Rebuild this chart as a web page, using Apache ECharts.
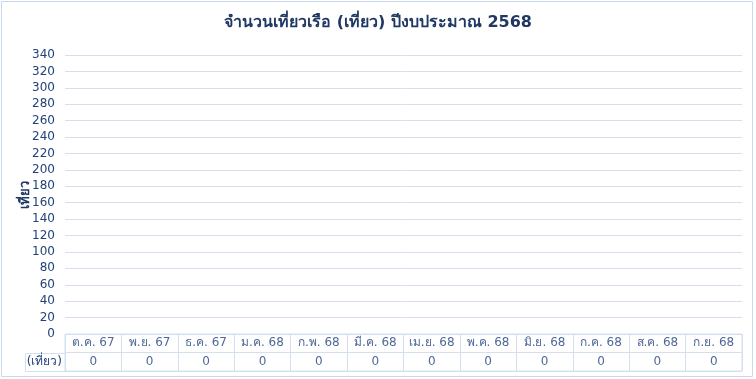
<!DOCTYPE html>
<html><head><meta charset="utf-8">
<script src="https://cdn.jsdelivr.net/npm/echarts@6/dist/echarts.min.js"></script>
<style>html,body{margin:0;padding:0;background:#fff}#c{width:756px;height:379px}</style>
</head><body><div id="c"></div>
<script>
const titleText = 'จำนวนเที่ยวเรือ (เที่ยว) ปีงบประมาณ 2568';
const yAxisName = 'เที่ยว';
const seriesName = '(เที่ยว)';
const categories = ['ต.ค. 67','พ.ย. 67','ธ.ค. 67','ม.ค. 68','ก.พ. 68','มี.ค. 68','เม.ย. 68','พ.ค. 68','มิ.ย. 68','ก.ค. 68','ส.ค. 68','ก.ย. 68'];
const trips = [0,0,0,0,0,0,0,0,0,0,0,0];
const yMin = 0, yMax = 340, yStep = 20;
const tableRows = ['head','val'];

const txt = '#22427c';
const lineC = '#d5e0ee';
const font = 'Tahoma, "DejaVu Sans", "Noto Sans", sans-serif';

const chart = echarts.init(document.getElementById('c'));
chart.setOption({
  animation: false,
  textStyle: {fontFamily: font},
  title: {text: titleText, left: 'center', top: 10,
    textStyle: {fontFamily: font, fontSize: 16, fontWeight: 'bold', color: '#203864'}},
  graphic: [
    {type: 'rect', shape: {x: 1.5, y: 1.5, width: 751, height: 375}, style: {fill: null, stroke: '#c9d8ea', lineWidth: 1}, silent: true},
    {type: 'rect', shape: {x: 25.5, y: 353.5, width: 40, height: 18}, style: {fill: null, stroke: lineC, lineWidth: 1}, silent: true}
  ],
  grid: [
    {left: 65, right: 14, top: 55, bottom: 45},
    {left: 65, right: 14, top: 334, bottom: 8, show: true, borderColor: lineC, borderWidth: 1}
  ],
  xAxis: [
    {type: 'category', gridIndex: 0, data: categories, axisLine: {show: false}, axisTick: {show: false}, axisLabel: {show: false}},
    {type: 'category', gridIndex: 1, data: categories, axisLine: {show: false}, axisTick: {show: false}, axisLabel: {show: false},
      splitLine: {show: true, interval: 0, lineStyle: {color: lineC, width: 1}}}
  ],
  yAxis: [
    {type: 'value', gridIndex: 0, min: yMin, max: yMax, interval: yStep,
      name: yAxisName, nameLocation: 'middle', nameGap: 33, nameRotate: 90, nameMoveOverlap: false,
      nameTextStyle: {color: '#203864', fontSize: 13, fontWeight: 'bold', fontFamily: font},
      axisLine: {show: false}, axisTick: {show: false},
      axisLabel: {color: txt, fontSize: 12, margin: 10, fontFamily: font},
      splitLine: {lineStyle: {color: lineC, width: 1}}},
    {type: 'category', gridIndex: 1, data: tableRows, inverse: true,
      axisLine: {show: false}, axisTick: {show: false},
      axisLabel: {show: true, margin: 3, color: txt, fontSize: 12, fontFamily: font,
        formatter: v => v === 'val' ? seriesName : ''},
      splitLine: {show: true, interval: 0, lineStyle: {color: lineC, width: 1}}}
  ],
  series: [
    {type: 'bar', name: seriesName, xAxisIndex: 0, yAxisIndex: 0, data: trips, itemStyle: {color: '#4472c4'}},
    {type: 'scatter', xAxisIndex: 1, yAxisIndex: 1, symbolSize: 0, silent: true,
      data: categories.map(c => [c, 'head']),
      label: {show: true, position: 'inside', color: txt, fontSize: 12, fontFamily: font, formatter: p => p.value[0]}},
    {type: 'scatter', xAxisIndex: 1, yAxisIndex: 1, symbolSize: 0, silent: true,
      data: categories.map((c, i) => [c, 'val', trips[i]]),
      label: {show: true, position: 'inside', color: txt, fontSize: 12, fontFamily: font, formatter: p => String(p.value[2])}}
  ]
});
</script></body></html>
